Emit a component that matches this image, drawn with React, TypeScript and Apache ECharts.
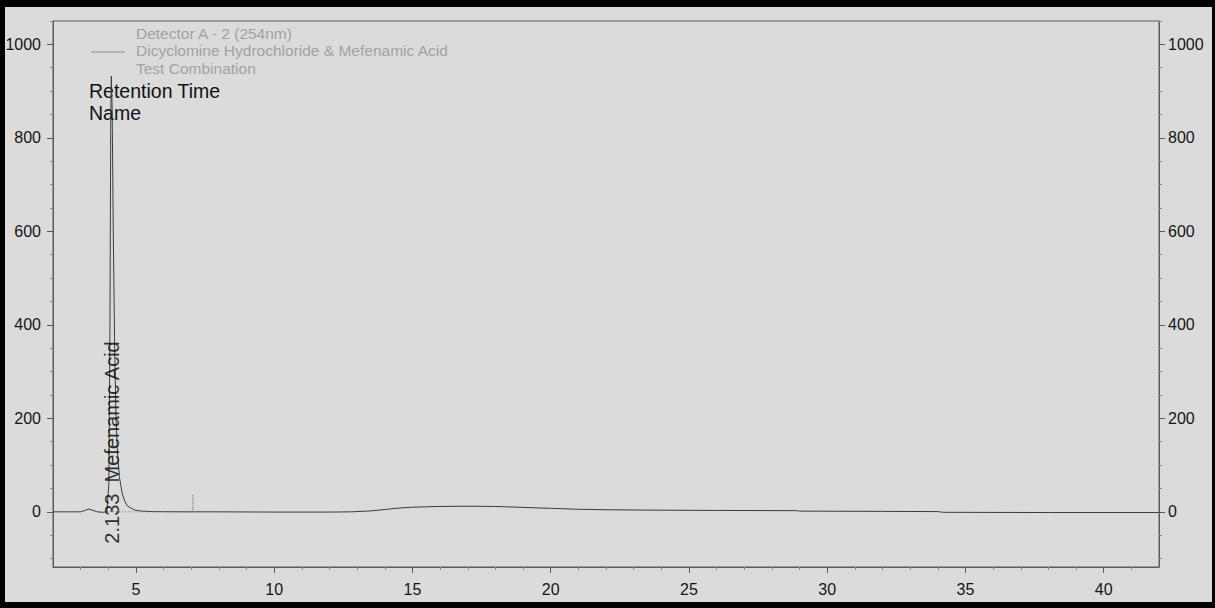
import React, { useEffect, useRef } from "react";
import * as echarts from "echarts";

// Chromatogram signal (time in min, response in mAU)
const times = [
  2.0, 2.5, 3.0, 3.15, 3.3, 3.45, 3.6, 3.8, 3.95, 4.02, 4.06, 4.09, 4.11, 4.14, 4.18, 4.23,
  4.28, 4.33, 4.4, 4.5, 4.6, 4.7, 4.8, 4.95, 5.2, 5.6, 6.0, 7.0, 8.0, 10.0, 12.0, 12.8,
  13.5, 14.0, 14.5, 15.0, 16.0, 17.0, 18.0, 19.0, 20.0, 21.0, 22.0, 24.0, 26.0, 28.9, 29.0,
  32.0, 34.0, 34.2, 38.0, 42.0,
];
const signal = [
  0, 0, 0, 3, 6, 3, 0, -1, 0, 60, 400, 850, 932, 860, 600, 350,
  200, 130, 75, 40, 22, 12, 9, 4, 1.5, 0.5, 0.3, 0, 0, -0.5, -0.5, 0,
  2, 5, 8, 10, 11.5, 12, 11.5, 9.5, 7.5, 5.5, 4.5, 3.5, 3, 2.5, 1.5,
  1, 0.5, -1, -1.5, -1.5,
];

// integration baseline (dotted) and event marker
const baselineTimes = [3.95, 7.06];
const baselineValues = [0, 0];
const markerTimes = [7.06, 7.06];
const markerValues = [0, 38];

// peak annotation
const peakLabelTimes = [4.13];
const peakLabelValues = [-68];
const peakLabelTexts = ["2.133  Mefenamic Acid"];

// axes
const xTicks = [5, 10, 15, 20, 25, 30, 35, 40];
const xMinorTicks = [3, 4, 6, 7, 8, 9, 11, 12, 13, 14, 16, 17, 18, 19, 21, 22, 23, 24, 26, 27, 28, 29, 31, 32, 33, 34, 36, 37, 38, 39, 41];
const yTicks = [0, 200, 400, 600, 800, 1000];
const yMinorTicks = [-100, -50, 50, 100, 150, 250, 300, 350, 450, 500, 550, 650, 700, 750, 850, 900, 950, 1050];

const legendLines = [
  "Detector A - 2 (254nm)",
  "Dicyclomine Hydrochloride & Mefenamic Acid",
  "Test Combination",
];
const headerLines = ["Retention Time", "Name"];

const FONT = '"Liberation Sans", Arial, sans-serif';
const X_MIN = 2;
const X_MAX = 42;
const Y_MIN = -118;
const Y_MAX = 1050;

export default function App() {
  const ref = useRef<HTMLDivElement>(null);
  useEffect(() => {
    document.body.style.margin = "0";
    if (!ref.current) return;
    const chart = echarts.init(ref.current, undefined, { renderer: "svg" });
    const axisColor = "#5a5a5a";
    const labelColor = "#151515";

    const yMain = (position: "left" | "right", margin: number) => ({
      type: "value",
      position,
      min: Y_MIN,
      max: Y_MAX,
      axisLine: { show: true, lineStyle: { color: axisColor, width: 1 } },
      axisTick: { show: true, customValues: yTicks, length: 6, lineStyle: { color: axisColor } },
      axisLabel: {
        show: true,
        customValues: yTicks,
        formatter: (v: number) => String(v),
        fontSize: 16,
        fontFamily: FONT,
        color: labelColor,
        margin,
      },
      splitLine: { show: false },
    });
    const yMinor = (position: "left" | "right") => ({
      type: "value",
      position,
      min: Y_MIN,
      max: Y_MAX,
      axisLine: { show: false },
      axisTick: { show: true, customValues: yMinorTicks, length: 3, lineStyle: { color: "#8a8a8a" } },
      axisLabel: { show: false },
      splitLine: { show: false },
    });

    chart.setOption({
      animation: false,
      backgroundColor: "#dbdbdb",
      grid: {
        left: 53,
        right: 56,
        top: 21,
        bottom: 41,
        show: true,
        borderColor: axisColor,
        borderWidth: 1,
        backgroundColor: "transparent",
      },
      xAxis: [
        {
          type: "value",
          position: "bottom",
          min: X_MIN,
          max: X_MAX,
          axisLine: { show: true, onZero: false, lineStyle: { color: axisColor, width: 1 } },
          axisTick: { show: true, customValues: xTicks, length: 6, lineStyle: { color: axisColor } },
          axisLabel: {
            show: true,
            customValues: xTicks,
            fontSize: 16,
            fontFamily: FONT,
            color: labelColor,
            margin: 14,
          },
          splitLine: { show: false },
        },
        {
          type: "value",
          position: "bottom",
          min: X_MIN,
          max: X_MAX,
          axisLine: { show: false, onZero: false },
          axisTick: { show: true, customValues: xMinorTicks, length: 3, lineStyle: { color: "#8a8a8a" } },
          axisLabel: { show: false },
          splitLine: { show: false },
        },
      ],
      yAxis: [yMain("left", 12), yMain("right", 9), yMinor("left"), yMinor("right")],
      series: [
        {
          type: "line",
          name: "signal",
          xAxisIndex: 0,
          yAxisIndex: 0,
          data: times.map((t, i) => [t, signal[i]]),
          symbol: "none",
          silent: true,
          lineStyle: { color: "#3c3c3c", width: 1 },
          z: 3,
        },
        {
          type: "line",
          name: "baseline",
          data: baselineTimes.map((t, i) => [t, baselineValues[i]]),
          symbol: "none",
          silent: true,
          lineStyle: { color: "#707070", width: 1, type: [1, 2] },
          z: 4,
        },
        {
          type: "line",
          name: "marker",
          data: markerTimes.map((t, i) => [t, markerValues[i]]),
          symbol: "none",
          silent: true,
          lineStyle: { color: "#606060", width: 1, type: [1, 1] },
          z: 4,
        },
        {
          type: "scatter",
          name: "peakLabel",
          data: peakLabelTimes.map((t, i) => ({ value: [t, peakLabelValues[i]], name: peakLabelTexts[i] })),
          symbolSize: 0,
          silent: true,
          label: {
            show: true,
            formatter: (p: any) => p.name,
            position: "inside",
            rotate: 90,
            align: "left",
            verticalAlign: "middle",
            fontSize: 20,
            fontFamily: FONT,
            color: "#000",
            textBorderWidth: 0,
          },
          z: 5,
        },
      ],
      graphic: [
        {
          type: "line",
          shape: { x1: 91, y1: 52, x2: 125, y2: 52 },
          style: { stroke: "#8c8c8c", lineWidth: 1 },
        },
        ...legendLines.map((t, i) => ({
          type: "text",
          x: 136,
          y: 33 + i * 17.5,
          style: {
            text: t,
            font: `15.5px ${FONT}`,
            fill: "#a2a2a2",
            textAlign: "left",
            textVerticalAlign: "middle",
          },
        })),
        ...headerLines.map((t, i) => ({
          type: "text",
          x: 89,
          y: 91 + i * 22,
          style: {
            text: t,
            font: `19.5px ${FONT}`,
            fill: "#111",
            textAlign: "left",
            textVerticalAlign: "middle",
          },
        })),
        // scanned black frame
        { type: "rect", shape: { x: 0, y: 0, width: 1215, height: 7 }, style: { fill: "#000" } },
        { type: "rect", shape: { x: 0, y: 0, width: 5, height: 608 }, style: { fill: "#000" } },
        { type: "rect", shape: { x: 0, y: 602, width: 1215, height: 6 }, style: { fill: "#000" } },
        { type: "rect", shape: { x: 1212, y: 0, width: 3, height: 608 }, style: { fill: "#000" } },
      ],
    });
    return () => chart.dispose();
  }, []);
  return <div ref={ref} style={{ width: 1215, height: 608 }} />;
}
